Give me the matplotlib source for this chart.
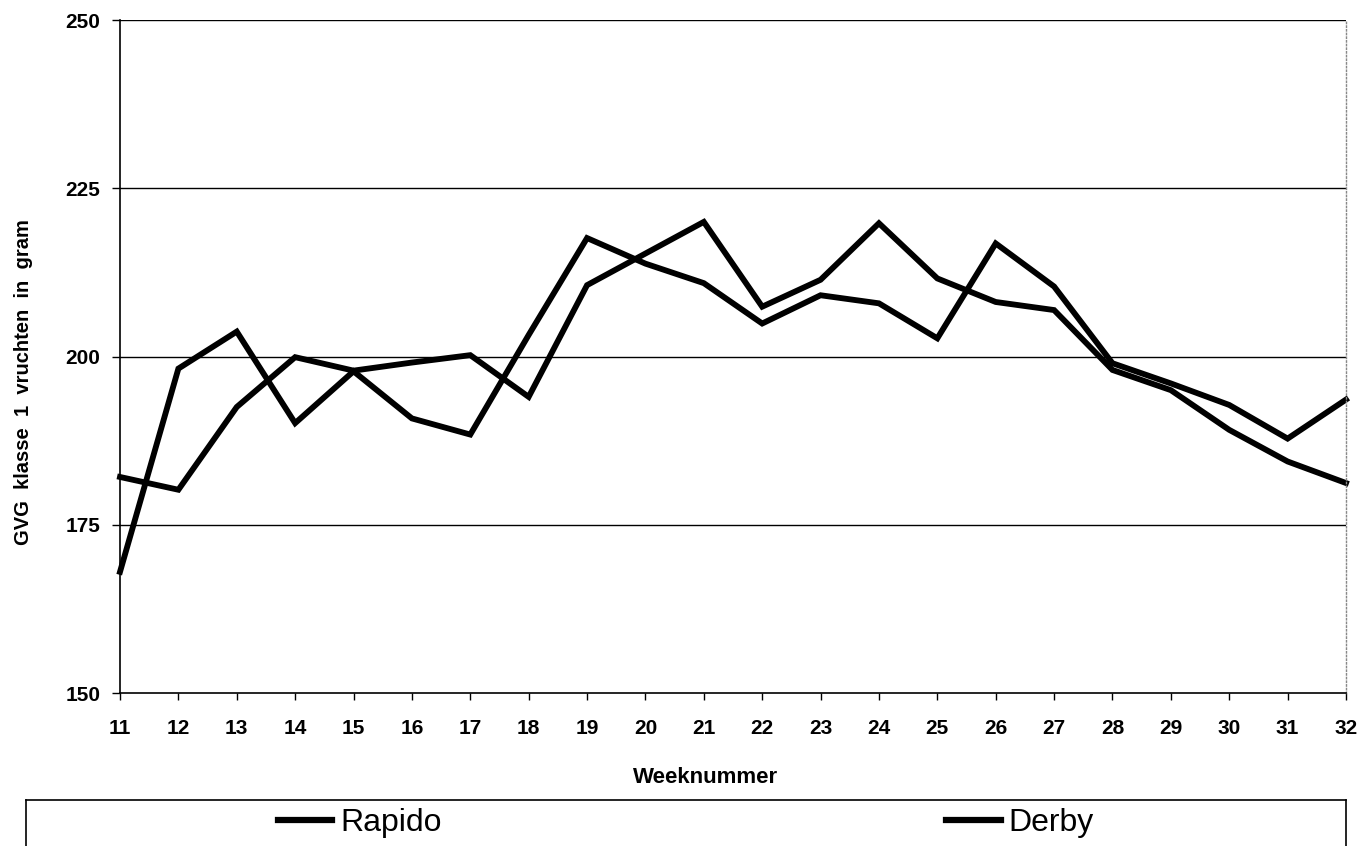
import numpy as np
import matplotlib.pyplot as plt
from matplotlib.lines import Line2D

plt.rcParams['font.family'] = ['Liberation Sans', 'DejaVu Sans']

weeks = list(range(11, 33))
rapido = [182.1, 180.2, 192.5, 199.9, 197.9, 199.1, 200.2, 194.0, 210.6, 215.3, 220.0,
          207.4, 211.4, 219.8, 211.6, 208.1, 206.9, 198.0, 195.0, 189.1, 184.4, 181.2]
derby = [168.0, 198.2, 203.7, 190.1, 197.8, 190.8, 188.4, 203.2, 217.6, 213.8, 210.9,
         204.9, 209.1, 207.9, 202.7, 216.8, 210.4, 199.0, 196.0, 192.8, 187.8, 193.6]
yticks = [150, 175, 200, 225, 250]

W, H = 1370, 846
fig = plt.figure(figsize=(W / 100, H / 100), dpi=100)
ax = fig.add_axes([120 / W, 1 - 693 / H, 1226 / W, 673 / H])

ax.plot(weeks, rapido, color='black', lw=4.2, solid_joinstyle='miter', label='Rapido', clip_on=False)
ax.plot(weeks, derby, color='black', lw=4.2, solid_joinstyle='miter', label='Derby', clip_on=False)

ax.set_xlim(11, 32)
ax.set_ylim(150, 250)
ax.set_xticks(weeks)
ax.set_yticks(yticks)
for y in yticks[1:]:
    ax.axhline(y, color='black', lw=1.0, zorder=0)

for lab in ax.get_xticklabels() + ax.get_yticklabels():
    lab.set_fontweight('bold')
ax.tick_params(axis='x', direction='out', length=5, width=1, pad=14, labelsize=15)
ax.tick_params(axis='y', direction='out', length=6, width=1, pad=8, labelsize=15)

ax.spines['top'].set_visible(False)
ax.spines['right'].set_color('#888888')
ax.spines['right'].set_linestyle(':')
ax.spines['right'].set_linewidth(1.0)
ax.spines['left'].set_linewidth(1.2)
ax.spines['bottom'].set_linewidth(1.2)

ax.set_xlabel('Weeknummer', fontsize=16, fontweight='bold')
ax.xaxis.set_label_coords((706 - 120) / 1226, (693 - 767) / 673)
ax.set_ylabel('GVG  klasse  1  vruchten  in  gram', fontsize=14.5, fontweight='bold')
ax.yaxis.set_label_coords((33 - 120) / 1226, (693 - 382) / 673)

# legend box at the bottom, cut off by the figure edge
lax = fig.add_axes([26 / W, -14 / H, 1320 / W, 60 / H])
lax.set_xticks([])
lax.set_yticks([])
for s in lax.spines.values():
    s.set_linewidth(1.2)
handles = [Line2D([], [], color='black', lw=4.5), Line2D([], [], color='black', lw=4.5)]
lax.legend(handles, ['Rapido', 'Derby'], loc='center', bbox_to_anchor=(0.5, 0.62),
           ncol=2, frameon=False, fontsize=23, handlelength=1.7, handletextpad=0.25,
           columnspacing=15.8, borderpad=0)

fig.savefig('out.png', dpi=100)
